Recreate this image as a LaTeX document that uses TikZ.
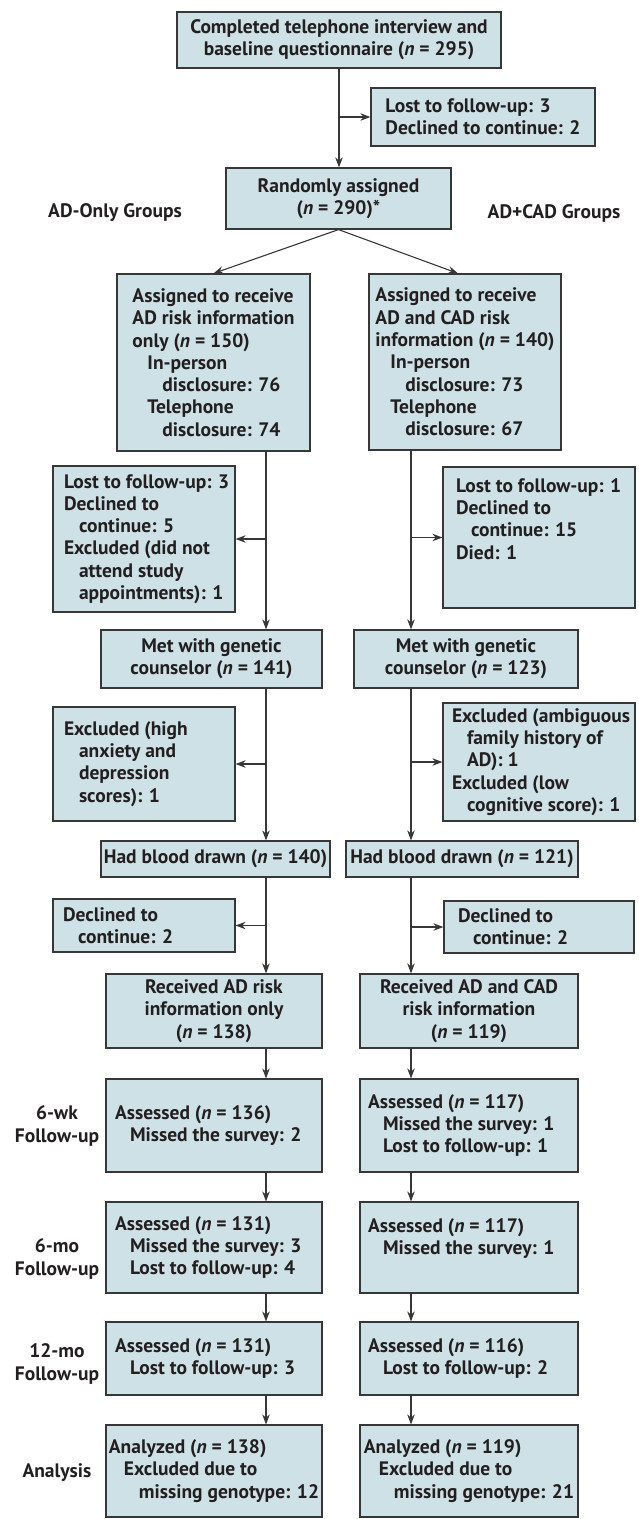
\documentclass[tikz,border=0pt]{standalone}
\usepackage{fontspec}
\setmainfont{PT Sans}
\usepackage{xcolor}
\usetikzlibrary{arrows.meta}
\definecolor{boxfill}{RGB}{205,225,230}
\definecolor{linegray}{RGB}{55,55,55}
\definecolor{textgray}{RGB}{35,31,32}
% first line padded to the box's text width
\newcommand{\firstln}[2]{\makebox[#1][l]{#2}}

\begin{document}
\begin{tikzpicture}[x=1pt,y=-1pt]
\useasboundingbox (0,0) rectangle (638,1519);
\coordinate (colL) at (266,0);
\coordinate (colR) at (411,0);

\begin{scope}[every node/.style={rectangle,draw=linegray,line width=1.2pt,fill=boxfill,
              text=textgray,font=\fontsize{19.5}{22.3}\selectfont\bfseries,
              inner xsep=0pt,inner ysep=0pt,align=left}]
    \node[minimum width=324pt,minimum height=56pt,align=center] (top) at (339,40)
        {Completed telephone interview and\\ baseline questionnaire (\textit{n} = 295)};
    \node[minimum width=224pt,minimum height=58pt] (side) at (483,117)
        {\firstln{180pt}{Lost to follow-up: 3}\\ Declined to continue: 2};
    \node[minimum width=225pt,minimum height=61pt,align=center] (rand) at (338.5,198.5)
        {Randomly assigned\\ (\textit{n} = 290)*};

    \node[minimum width=193pt,minimum height=177pt] (aL) at (213.5,362.5)
        {\firstln{159pt}{Assigned to receive}\\ AD risk information\\ only (\textit{n} = 150)\\
         \hspace*{15pt}In-person\\ \hspace*{30pt}disclosure: 76\\
         \hspace*{15pt}Telephone\\ \hspace*{30pt}disclosure: 74};
    \node[minimum width=192pt,minimum height=176pt] (aR) at (465,362)
        {\firstln{172pt}{Assigned to receive}\\ AD and CAD risk\\ information (\textit{n} = 140)\\
         \hspace*{15pt}In-person\\ \hspace*{30pt}disclosure: 73\\
         \hspace*{15pt}Telephone\\ \hspace*{30pt}disclosure: 67};

    \node[minimum width=182pt,minimum height=146pt] (lostL) at (144,539)
        {\firstln{160pt}{Lost to follow-up: 3}\\ Declined to\\ \hspace*{15pt}continue: 5\\
         Excluded (did not\\ \hspace*{15pt}attend study\\ \hspace*{15pt}appointments): 1};
    \node[minimum width=192pt,minimum height=141pt] (lostR) at (539,537.5)
        {\firstln{166pt}{Lost to follow-up: 1}\\ Declined to\\ \hspace*{15pt}continue: 15\\
         Died: 1\\[15pt]~};

    \node[minimum width=221pt,minimum height=58pt,align=center] (mL) at (211.5,659)
        {Met with genetic\\ counselor (\textit{n} = 141)};
    \node[minimum width=224pt,minimum height=58pt,align=center] (mR) at (466,659)
        {Met with genetic\\ counselor (\textit{n} = 123)};

    \node[minimum width=182pt,minimum height=114pt] (exL) at (144,764)
        {\firstln{160pt}{Excluded (high}\\ \hspace*{15pt}anxiety and\\
         \hspace*{15pt}depression\\ \hspace*{15pt}scores): 1};
    \node[minimum width=192pt,minimum height=118pt] (exR) at (539,762)
        {\firstln{174pt}{Excluded (ambiguous}\\ \hspace*{15pt}family history of\\
         \hspace*{15pt}AD): 1\\ Excluded (low\\ \hspace*{15pt}cognitive score): 1};

    \node[minimum width=229pt,minimum height=36pt,align=center] (bL) at (215.5,859)
        {Had blood drawn (\textit{n} = 140)};
    \node[minimum width=232pt,minimum height=36pt,align=center] (bR) at (462,859)
        {Had blood drawn (\textit{n} = 121)};

    \node[minimum width=182pt,minimum height=53pt] (dL) at (144,925.5)
        {\firstln{162pt}{Declined to}\\ \hspace*{15pt}continue: 2};
    \node[minimum width=190pt,minimum height=52pt] (dR) at (539,927)
        {\firstln{162pt}{Declined to}\\ \hspace*{15pt}continue: 2};

    \node[minimum width=216pt,minimum height=74pt,align=center] (rL) at (214,1011)
        {Received AD risk\\ information only\\ (\textit{n} = 138)};
    \node[minimum width=218pt,minimum height=74pt,align=center] (rR) at (469,1011)
        {Received AD and CAD\\ risk information\\ (\textit{n} = 119)};

    \node[minimum width=216pt,minimum height=93pt] (w6L) at (214,1125.5)
        {\firstln{198pt}{Assessed (\textit{n} = 136)}\\ \hspace*{15pt}Missed the survey: 2};
    \node[minimum width=218pt,minimum height=93pt] (w6R) at (469,1125.5)
        {\firstln{202pt}{Assessed (\textit{n} = 117)}\\ \hspace*{15pt}Missed the survey: 1\\
         \hspace*{15pt}Lost to follow-up: 1};

    \node[minimum width=216pt,minimum height=91pt] (m6L) at (214,1247.5)
        {\firstln{198pt}{Assessed (\textit{n} = 131)}\\ \hspace*{15pt}Missed the survey: 3\\
         \hspace*{15pt}Lost to follow-up: 4};
    \node[minimum width=218pt,minimum height=91pt] (m6R) at (469,1247.5)
        {\firstln{202pt}{Assessed (\textit{n} = 117)}\\ \hspace*{15pt}Missed the survey: 1\\ ~};

    \node[minimum width=216pt,minimum height=73pt] (m12L) at (214,1358.5)
        {\firstln{198pt}{Assessed (\textit{n} = 131)}\\ \hspace*{15pt}Lost to follow-up: 3};
    \node[minimum width=218pt,minimum height=73pt] (m12R) at (469,1358.5)
        {\firstln{202pt}{Assessed (\textit{n} = 116)}\\ \hspace*{15pt}Lost to follow-up: 2};

    \node[minimum width=216pt,minimum height=92pt] (anL) at (214,1471)
        {\firstln{198pt}{Analyzed (\textit{n} = 138)}\\ \hspace*{15pt}Excluded due to\\
         \hspace*{30pt}missing genotype: 12};
    \node[minimum width=218pt,minimum height=92pt] (anR) at (469,1471)
        {\firstln{202pt}{Analyzed (\textit{n} = 119)}\\ \hspace*{15pt}Excluded due to\\
         \hspace*{30pt}missing genotype: 21};
\end{scope}

\begin{scope}[every node/.style={text=textgray,font=\fontsize{19.5}{22.3}\selectfont\bfseries,
              inner sep=0pt,align=center}]
    \node (grpL) at (115,213) {AD-Only Groups};
    \node (grpR) at (554,213) {AD+CAD Groups};
    \node (wk6) at (57,1126) {6-wk\\ Follow-up};
    \node (mo6) at (57,1259) {6-mo\\ Follow-up};
    \node (mo12) at (57,1364) {12-mo\\ Follow-up};
    \node (ana) at (57,1473) {Analysis};
\end{scope}

\begin{scope}[>={Stealth[length=10pt,width=7.5pt]},
              every edge/.style={draw=linegray,line width=1.1pt}]
    \path[->] (top.south) edge (top.south |- rand.north);
    \path[->] (side.west -| top.south) edge (side.west);
    \path[->] (rand.south) edge (aL.north);
    \path[->] (rand.south) edge ([xshift=-7pt]aR.north);
    % AD-only column
    \path[->] (aL.south -| colL) edge (mL.north -| colL);
    \path[->] (lostL.east -| colL) edge (lostL.east);
    \path[->] (mL.south -| colL) edge (bL.north -| colL);
    \path[->] (exL.east -| colL) edge (exL.east);
    \path[->] (bL.south -| colL) edge (rL.north -| colL);
    \path[->] (dL.east -| colL) edge (dL.east);
    \path[->] (rL.south -| colL) edge (w6L.north -| colL);
    \path[->] (w6L.south -| colL) edge (m6L.north -| colL);
    \path[->] (m6L.south -| colL) edge (m12L.north -| colL);
    \path[->] (m12L.south -| colL) edge (anL.north -| colL);
    % AD+CAD column
    \path[->] (aR.south -| colR) edge (mR.north -| colR);
    \path[->] (lostR.west -| colR) edge (lostR.west);
    \path[->] (mR.south -| colR) edge (bR.north -| colR);
    \path[->] (exR.west -| colR) edge (exR.west);
    \path[->] (bR.south -| colR) edge (rR.north -| colR);
    \path[->] (dR.west -| colR) edge (dR.west);
    \path[->] (rR.south -| colR) edge (w6R.north -| colR);
    \path[->] (w6R.south -| colR) edge (m6R.north -| colR);
    \path[->] (m6R.south -| colR) edge (m12R.north -| colR);
    \path[->] (m12R.south -| colR) edge (anR.north -| colR);
\end{scope}
\end{tikzpicture}
\end{document}
